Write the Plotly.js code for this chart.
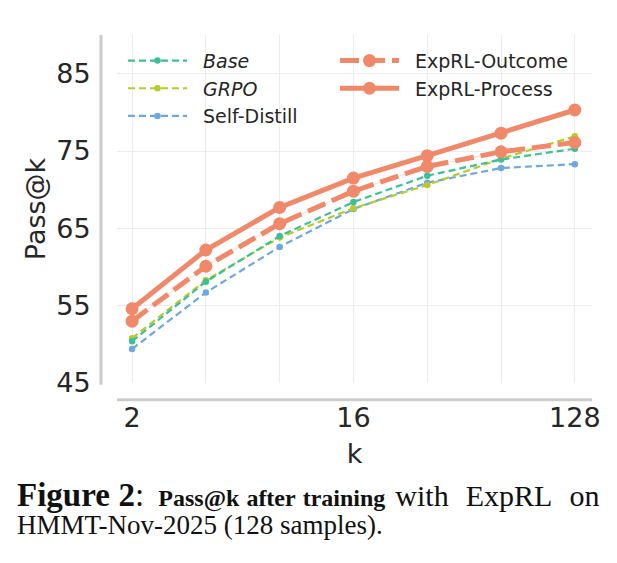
<!DOCTYPE html>
<html>
<head>
<meta charset="utf-8">
<script src="https://cdn.plot.ly/plotly-3.0.1.min.js"></script>
<style>
  html, body { margin: 0; padding: 0; background: #ffffff; }
  #chart { width: 617px; height: 563px; }
</style>
</head>
<body>
<div id="chart"></div>
<script>
// ---- data ----
const kValues = [2, 4, 8, 16, 32, 64, 128];
const kTickText = ["2", "", "", "16", "", "", "128"];
const yTickVals = [45, 55, 65, 75, 85];

const baseVals        = [50.4, 58.1, 64.0, 68.4, 71.8, 73.9, 75.3];
const grpoVals        = [50.8, 58.3, 63.8, 67.6, 70.6, 74.0, 76.9];
const selfDistillVals = [49.4, 56.7, 62.6, 67.5, 70.9, 72.8, 73.3];
const outcomeVals     = [53.0, 60.1, 65.6, 69.8, 73.0, 74.9, 76.1];
const processVals     = [54.6, 62.2, 67.7, 71.5, 74.4, 77.3, 80.3];

const seriesNames = ["<i>Base</i>", "<i>GRPO</i>", "Self-Distill", "ExpRL-Outcome", "ExpRL-Process"];

// ---- styles ----
const cBase = "#3fbf97";
const cGrpo = "#b7cc2b";
const cSelf = "#6fa8dc";
const cExp  = "#f08969";
const textColor = "#262626";
const sans = "DejaVu Sans, sans-serif";
const serif = "Liberation Serif, serif";

function thin(y, name, color, grp, rank) {
  return {
    x: kValues, y: y, name: name, type: "scatter", mode: "lines+markers",
    line: { color: color, width: 2.2, dash: "7px,4px" },
    marker: { color: color, size: 6.5 },
    legend: "legend", legendgroup: grp, legendrank: rank
  };
}

const traces = [
  thin(selfDistillVals, seriesNames[2], cSelf, "g3", 3),
  thin(grpoVals, seriesNames[1], cGrpo, "g2", 2),
  thin(baseVals, seriesNames[0], cBase, "g1", 1),
  {
    x: kValues, y: outcomeVals, type: "scatter", mode: "lines", showlegend: false,
    line: { color: "rgba(240,137,105,0.3)", width: 1 }, hoverinfo: "skip"
  },
  {
    x: kValues, y: outcomeVals, name: seriesNames[3], type: "scatter", mode: "lines+markers",
    line: { color: cExp, width: 5, dash: "19px,7px" },
    marker: { color: cExp, size: 13 },
    legend: "legend2", legendgroup: "g4", legendrank: 4
  },
  {
    x: kValues, y: processVals, name: seriesNames[4], type: "scatter", mode: "lines+markers",
    line: { color: cExp, width: 5 },
    marker: { color: cExp, size: 13 },
    legend: "legend2", legendgroup: "g5", legendrank: 5
  }
];

const plotL = 117, plotR = 592, plotT = 35, plotB = 383.3;
const pw = plotR - plotL, ph = plotB - plotT;
const px = v => (v - plotL) / pw;
const py = v => (plotB - v) / ph;

const legendCommon = {
  bgcolor: "rgba(0,0,0,0)", borderwidth: 0,
  font: { family: sans, size: 19, color: textColor },
  itemwidth: 70, tracegroupgap: 4.4,
  xanchor: "left", yanchor: "top", traceorder: "normal"
};

// caption helpers (justified first line emulated with sized spaces)
const sp  = s => "<span style='font-size:" + s + "px'> </span>";
const sp2 = s => "<span style='font-size:" + s + "px'> \u00a0</span>";
const fs  = (s, t) => "<span style='font-size:" + s + "px'>" + t + "</span>";
const captionLine1 =
  "<b>" + fs(33, "Figure") + "</b>" + sp(34) + "<b>" + fs(33, "2") + "</b>" + fs(33, ":") + sp2(28.6) +
  "<b>" + fs(24, "Pass@k") + "</b>" + sp(28) + "<b>" + fs(24, "after") + "</b>" + sp(28) +
  "<b>" + fs(24, "training") + "</b>" + sp2(20) +
  fs(30, "with") + sp2(34) + fs(30, "ExpRL") + sp2(34) + fs(30, "on");
const captionLine2 = fs(27, "HMMT-Nov-2025 (128 samples).");

const layout = {
  width: 617, height: 563,
  paper_bgcolor: "#ffffff", plot_bgcolor: "#ffffff",
  margin: { l: plotL, r: 617 - plotR, t: plotT, b: 563 - plotB, pad: 0 },
  font: { family: sans, color: textColor },
  showlegend: true,
  legend: Object.assign({}, legendCommon, { x: px(123), y: py(41.7) }),
  legend2: Object.assign({}, legendCommon, { x: px(335), y: py(41.7) }),
  xaxis: {
    type: "log",
    range: [Math.log10(2) - 0.0615, Math.log10(128) + 0.07],
    tickvals: kValues, ticktext: kTickText,
    showgrid: true, gridcolor: "#ececec", gridwidth: 1,
    zeroline: false, showline: false,
    ticks: "outside", ticklen: 11, tickcolor: "rgba(0,0,0,0)",
    tickfont: { family: sans, size: 27, color: textColor },
    title: { text: "k", font: { family: sans, size: 27, color: textColor }, standoff: 11 }
  },
  yaxis: {
    range: [45, 90],
    tickvals: yTickVals,
    showgrid: true, gridcolor: "#ececec", gridwidth: 1,
    zeroline: false, showline: false,
    ticks: "outside", ticklen: 20, tickcolor: "rgba(0,0,0,0)",
    tickfont: { family: sans, size: 27, color: textColor },
    title: { text: "Pass@k", font: { family: sans, size: 27, color: textColor }, standoff: 2 }
  },
  shapes: [
    { type: "line", xref: "paper", yref: "paper",
      x0: px(101), x1: px(101), y0: py(385), y1: 1,
      line: { color: "#cccccc", width: 3 } },
    { type: "line", xref: "paper", yref: "paper",
      x0: 0, x1: 1, y0: py(400), y1: py(400),
      line: { color: "#cccccc", width: 3 } }
  ],
  annotations: [
    { xref: "paper", yref: "paper", xanchor: "left", yanchor: "top",
      x: px(15), y: py(474), showarrow: false, align: "left",
      font: { family: serif, size: 21.54, color: "#111111" },
      text: captionLine1 + "<br>" + captionLine2 }
  ]
};

Plotly.newPlot("chart", traces, layout, { displayModeBar: false, staticPlot: true }).then(function (gd) {
  // lengthen legend line samples to match the reference (about 60 px)
  gd.querySelectorAll("g.traces").forEach(function (g) {
    g.querySelectorAll(".legendlines path").forEach(function (p) { p.setAttribute("d", "M5,0h59"); });
    g.querySelectorAll(".legendpoints path").forEach(function (p) { p.setAttribute("transform", "translate(34.5,0)"); });
  });
});
</script>
</body>
</html>
